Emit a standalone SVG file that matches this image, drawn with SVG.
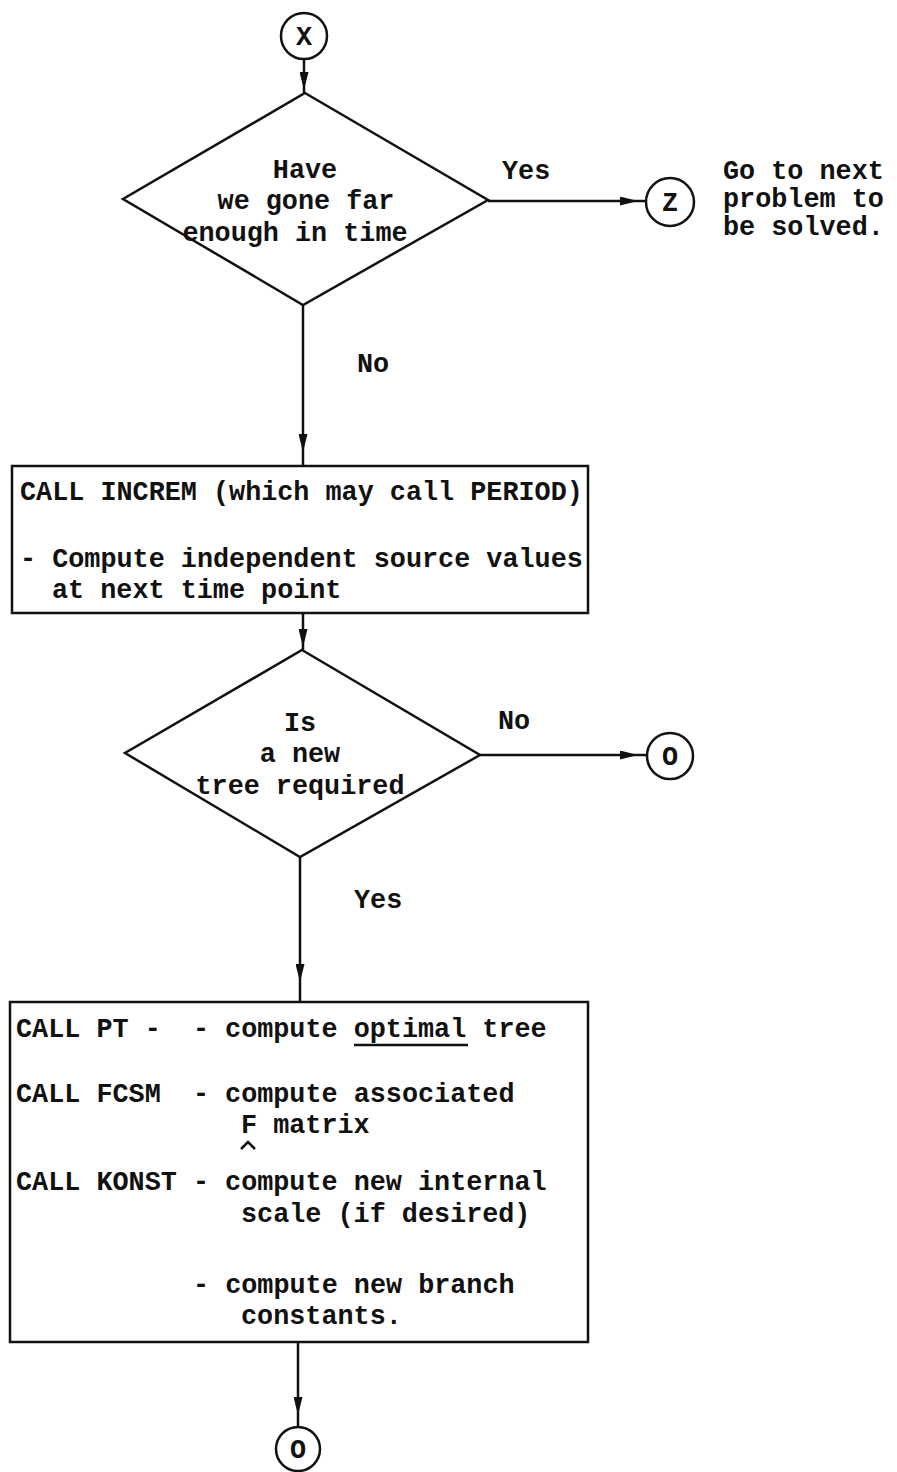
<svg xmlns="http://www.w3.org/2000/svg" width="897" height="1472" viewBox="0 0 897 1472">
<style>
text{font-family:"Liberation Mono","Courier New",monospace;font-size:26.8px;font-weight:bold;fill:#111;white-space:pre}
.c{text-anchor:middle}
.s{fill:none;stroke:#111;stroke-width:2.5}
</style>
<defs>
<marker id="ah" viewBox="0 0 20 10" refX="20" refY="5" markerWidth="20" markerHeight="9" markerUnits="userSpaceOnUse" orient="auto">
<path d="M0,0 L20,5 L0,10 Z" fill="#111"/>
</marker>
</defs>
<rect width="897" height="1472" fill="#fff"/>
<g id="connectors">
<path class="s" d="M304,59 L304,90 L304,93" marker-mid="url(#ah)"/>
<path class="s" d="M488,201 L638,201 L646,201" marker-mid="url(#ah)"/>
<path class="s" d="M303,305 L303,452 L303,467" marker-mid="url(#ah)"/>
<path class="s" d="M303,613 L303,647 L303,650" marker-mid="url(#ah)"/>
<path class="s" d="M480,755 L638,755 L646,755" marker-mid="url(#ah)"/>
<path class="s" d="M300,857 L300,982 L300,1002" marker-mid="url(#ah)"/>
<path class="s" d="M298,1342 L298,1415 L298,1426" marker-mid="url(#ah)"/>
</g>
<g id="nodeX">
<circle class="s" cx="304" cy="36" r="23"/>
<text class="c" x="304" y="45">X</text>
</g>
<g id="decision1">
<path class="s" d="M305,93 L488,200 L303,305 L123,199 Z"/>
<text class="c" x="305" y="178">Have</text>
<text class="c" x="306" y="209">we gone far</text>
<text class="c" x="295" y="241">enough in time</text>
</g>
<g id="labelYes1"><text x="502" y="179">Yes</text></g>
<g id="nodeZ">
<circle class="s" cx="670" cy="202" r="24"/>
<text class="c" x="670" y="211">Z</text>
</g>
<g id="noteZ">
<text x="723" y="179">Go to next</text>
<text x="723" y="207">problem to</text>
<text x="723" y="235">be solved.</text>
</g>
<g id="labelNo1"><text x="357" y="372">No</text></g>
<g id="box1">
<rect class="s" x="12" y="466" width="576" height="147"/>
<text x="20" y="500">CALL INCREM (which may call PERIOD)</text>
<text x="20" y="567">- Compute independent source values</text>
<text x="52" y="598">at next time point</text>
</g>
<g id="decision2">
<path class="s" d="M302,650 L480,755 L300,857 L125,753 Z"/>
<text class="c" x="300" y="731">Is</text>
<text class="c" x="300" y="762">a new</text>
<text class="c" x="300" y="794">tree required</text>
</g>
<g id="labelNo2"><text x="498" y="729">No</text></g>
<g id="nodeO1">
<circle class="s" cx="670" cy="756" r="23"/>
<text class="c" x="670" y="765">O</text>
</g>
<g id="labelYes2"><text x="354" y="908">Yes</text></g>
<g id="box2">
<rect class="s" x="10" y="1002" width="578" height="340"/>
<text x="16" y="1037">CALL PT -  - compute optimal tree</text>
<line class="s" x1="354" y1="1045" x2="468" y2="1045"/>
<text x="16" y="1102">CALL FCSM  - compute associated</text>
<text x="241" y="1133">F matrix</text>
<path class="s" d="M241,1149 L248,1142 L255,1149" stroke-width="3"/>
<text x="16" y="1190">CALL KONST - compute new internal</text>
<text x="241" y="1222">scale (if desired)</text>
<text x="193" y="1293">- compute new branch</text>
<text x="241" y="1324">constants.</text>
</g>
<g id="nodeO2">
<circle class="s" cx="298" cy="1449" r="22"/>
<text class="c" x="298" y="1458">O</text>
</g>
</svg>
